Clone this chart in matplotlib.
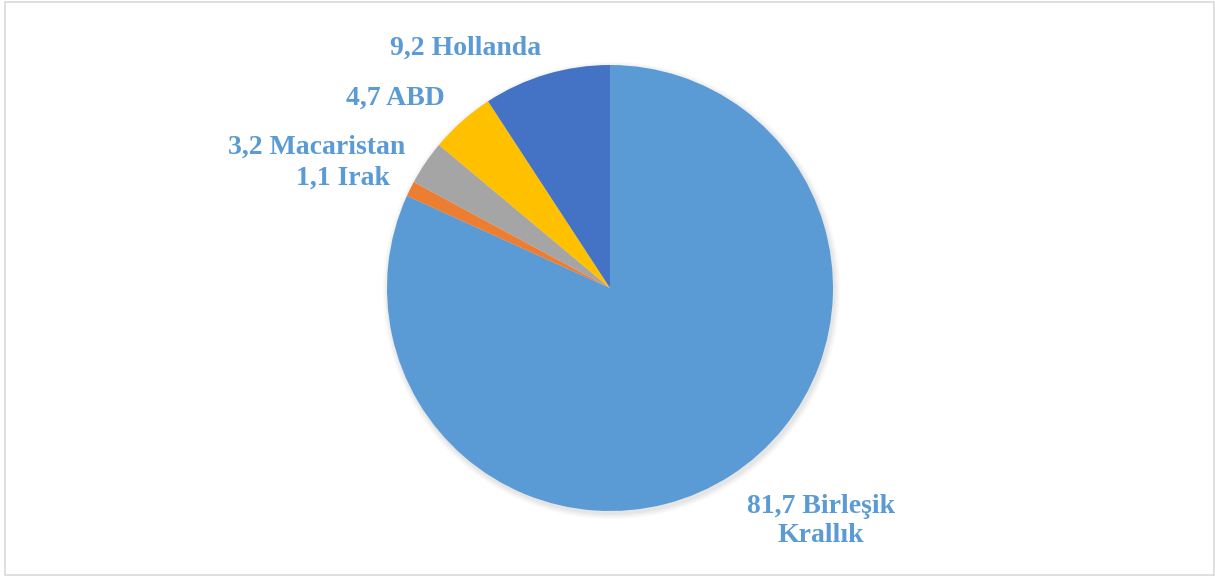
import matplotlib.pyplot as plt
from matplotlib.patches import Rectangle, Circle

plt.rcParams['font.family'] = ['Liberation Serif', 'DejaVu Serif']

# ulkelere gore paylar (%)
ulkeler = ['Birleşik\nKrallık', 'Irak', 'Macaristan', 'ABD', 'Hollanda']
degerler = [81.7, 1.1, 3.2, 4.7, 9.2]
renkler = ['#5B9BD5', '#ED7D31', '#A5A5A5', '#FFC000', '#4472C4']
etiket_rengi = '#5B9BD5'

W, H = 1215, 576
fig = plt.figure(figsize=(W / 100, H / 100), dpi=100)
ax = fig.add_axes([0, 0, 1, 1])
ax.set_xlim(0, W)
ax.set_ylim(0, H)
ax.set_aspect('equal')
ax.axis('off')

cx, cy, r = 610, H - 288, 223

# hafif golge
for i, a in enumerate([0.025, 0.025, 0.02, 0.02, 0.015]):
    ax.add_patch(Circle((cx + 1.5, cy - 2.5), r + 1 + i * 1.2, color='#000000', alpha=a, lw=0, zorder=0))

ax.pie(degerler, colors=renkler, startangle=90, counterclock=False,
       center=(cx, cy), radius=r, frame=True,
       wedgeprops=dict(linewidth=0, zorder=1))
ax.set_xlim(0, W)
ax.set_ylim(0, H)
ax.axis('off')

def etiket(i):
    return f"{degerler[i]:.1f}".replace('.', ',') + ' ' + ulkeler[i]

yazi = dict(color=etiket_rengi, fontsize=20, fontweight='bold', va='center')
ax.text(466, H - 48, etiket(4), ha='center', **yazi)
ax.text(445, H - 98, etiket(3), ha='right', **yazi)
ax.text(405, H - 147, etiket(2), ha='right', **yazi)
ax.text(390, H - 178, etiket(1), ha='right', **yazi)
ax.text(821, H - 521, etiket(0), ha='center', multialignment='center',
        linespacing=1.25, **yazi)

# cerceve
fig.patches.append(Rectangle((4.5 / W, 1.5 / H), (1213.5 - 4.5) / W, (574 - 1.5) / H,
                             transform=fig.transFigure, fill=False,
                             edgecolor='#D9D9D9', linewidth=1.2))

fig.savefig('out.png', dpi=100)
